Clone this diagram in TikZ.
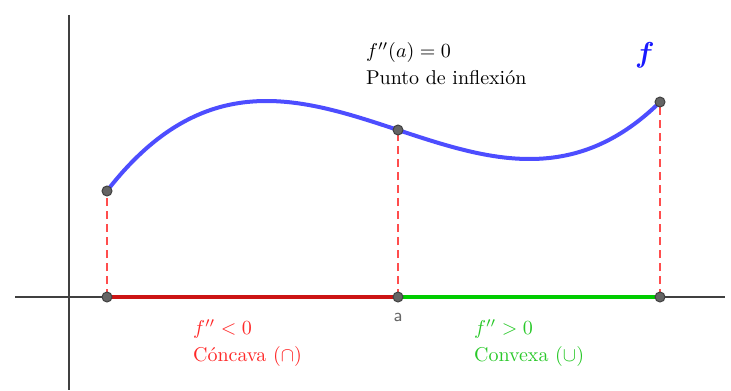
\documentclass[tikz,border=0pt]{standalone}
\usepackage{amsmath,amssymb}
\usepackage{fontspec}
\usepackage{xcolor}
\usetikzlibrary{positioning}

\definecolor{ejegris}{RGB}{64,64,64}
\definecolor{curvaazul}{RGB}{77,77,255}
\definecolor{guiarojo}{RGB}{255,77,77}
\definecolor{tramorojo}{RGB}{204,20,20}
\definecolor{tramoverde}{RGB}{0,204,0}
\definecolor{textorojo}{RGB}{255,40,40}
\definecolor{textoverde}{RGB}{40,200,40}
\definecolor{puntogris}{RGB}{100,100,100}

\begin{document}
\begin{tikzpicture}[x=0.5pt, y=-0.5pt,
  eje/.style={ejegris, line width=1.2pt},
  curva/.style={curvaazul, line width=2pt, line cap=round},
  guia/.style={guiarojo, line width=1pt, dash pattern=on 4pt off 2.5pt},
  tramo/.style={line width=2pt},
  punto/.style={circle, fill=puntogris, draw=black!75, line width=0.5pt,
    inner sep=0pt, minimum size=5pt}]
\useasboundingbox (0,0) rectangle (731,390);

% Ejes
\coordinate (xizq) at (15,297);
\coordinate (xder) at (725,297);
\coordinate (yarr) at (69,15);
\coordinate (yaba) at (69,390);
\draw[eje] (xizq) -- (xder);
\draw[eje] (yarr) -- (yaba);

% Puntos del eje y de la curva
\coordinate (e0) at (107,297);
\coordinate (e1) at (398,297);
\coordinate (e2) at (660,297);
\coordinate (c0) at (107,191);
\coordinate (c1) at (398,130);
\coordinate (c2) at (660,102);

% Tramos de concavidad
\draw[tramo, tramorojo] (e0) -- (e1);
\draw[tramo, tramoverde] (e1) -- (e2);

% Lineas guia
\draw[guia] (e0) -- (c0);
\draw[guia] (e1) -- (c1);
\draw[guia] (e2) -- (c2);

% Curva f
\draw[curva] plot[domain=107:660, samples=100, smooth]
  (\x, {130 - 6.377*((\x-398)/100)^3 + 33.08*(\x-398)/100});

\node[punto] (p0) at (e0) {};
\node[punto] (p1) at (e1) {};
\node[punto] (p2) at (e2) {};
\node[punto] (q0) at (c0) {};
\node[punto] (q1) at (c1) {};
\node[punto] (q2) at (c2) {};

% Textos
\node[below=5pt of p1, font=\sffamily\small, text=black!60, inner sep=0pt] (rotulo) {a};
\node[anchor=west, align=left] (inflexion) at (359,64) {$f''(a)=0$\\[1.5pt]Punto de inflexión};
\node[text=blue!90!white, font=\Large] (nombref) at (645,55) {$\boldsymbol{f}$};
\node[anchor=west, align=left, text=textorojo] (concava) at (186,343) {$f''<0$\\[1.5pt]Cóncava ($\cap$)};
\node[anchor=west, align=left, text=textoverde] (convexa) at (467,343) {$f''>0$\\[1.5pt]Convexa ($\cup$)};
\end{tikzpicture}
\end{document}
